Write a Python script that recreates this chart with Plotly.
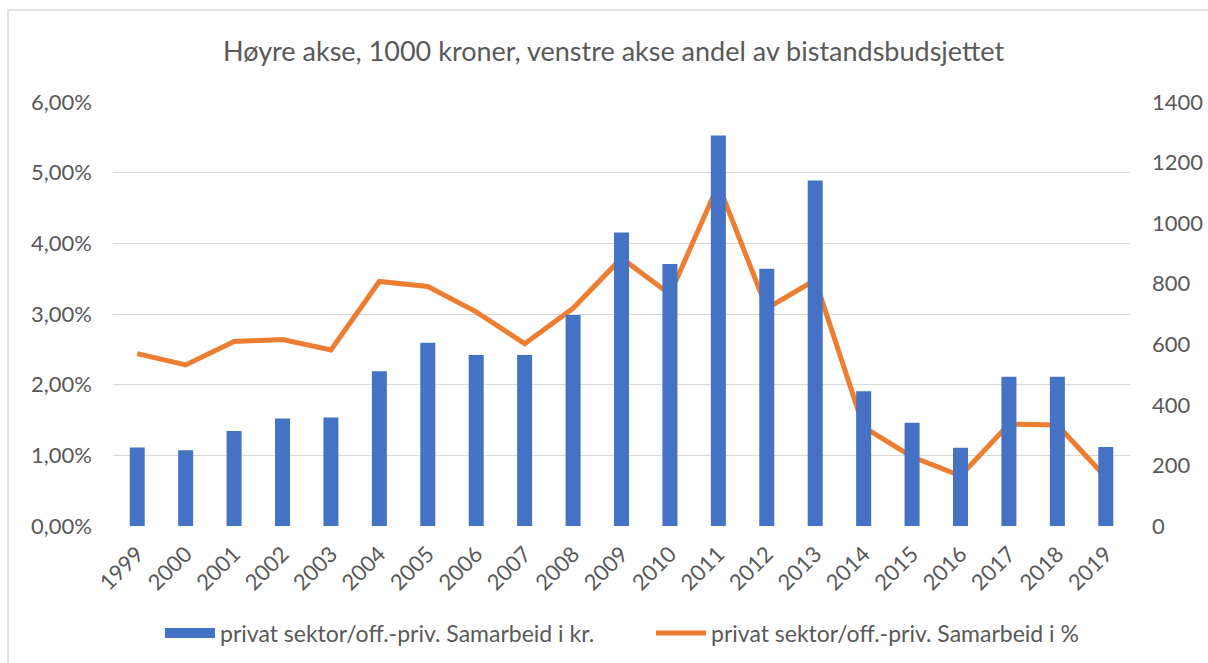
import plotly.graph_objects as go

years = [str(y) for y in range(1999, 2020)]
kroner = [259, 250, 314, 355, 358, 511, 605, 565, 565, 697, 969, 865, 1289, 849, 1141, 445, 341, 258, 493, 493, 261]
andel = [0.0244, 0.0228, 0.0261, 0.0264, 0.0249, 0.0346, 0.0339, 0.0303, 0.0258, 0.0308, 0.0379, 0.0328,
         0.0483, 0.0308, 0.0348, 0.0140, 0.0098, 0.0071, 0.0144, 0.0143, 0.0069]

bar_name = "privat sektor/off.-priv. Samarbeid i kr."
line_name = "privat sektor/off.-priv. Samarbeid i %"
title_text = "Høyre akse, 1000 kroner, venstre akse andel av bistandsbudsjettet"

FONT = "Lato"
GRAY = "#595959"
BLUE = "#4472C4"
ORANGE = "#ED7D31"
TS = 22

fig = go.Figure()
fig.add_trace(go.Bar(x=years, y=kroner, name=bar_name, marker=dict(color=BLUE, line=dict(width=0)),
                     yaxis="y2", showlegend=False))
# legend entry for the bars (wide swatch as in the original)
fig.add_trace(go.Scatter(x=[None], y=[None], name=bar_name, mode="lines",
                         line=dict(color=BLUE, width=14), yaxis="y2", showlegend=True, legend="legend"))
fig.add_trace(go.Scatter(x=years, y=andel, name=line_name, mode="lines",
                         line=dict(color=ORANGE, width=5), yaxis="y", legend="legend2"))

legend_common = dict(orientation="h", xref="container", yref="container", xanchor="left",
                     y=1 - 633 / 663, yanchor="middle", font=dict(size=23, color=GRAY),
                     itemwidth=50, bgcolor="rgba(0,0,0,0)")

fig.update_layout(
    width=1208, height=663,
    margin=dict(l=113, r=78, t=102, b=137),
    paper_bgcolor="white", plot_bgcolor="white",
    separators=", ",
    font=dict(family=FONT, color=GRAY, size=TS),
    bargap=0.69,
    title=dict(text=title_text, x=0.508, xanchor="center", y=1 - 52 / 663, yanchor="middle",
               font=dict(family=FONT, size=27, color=GRAY)),
    xaxis=dict(type="category", tickangle=-45, showgrid=False, showline=False, zeroline=False,
               ticks="", ticklabelstandoff=10, tickfont=dict(size=TS, color=GRAY), automargin=False),
    yaxis=dict(range=[0, 0.06], dtick=0.01, tickformat=".2%", showgrid=True, gridcolor="#D9D9D9",
               gridwidth=1.3, zeroline=False, showline=False, ticks="", ticklabelstandoff=20,
               tickfont=dict(size=TS, color=GRAY), automargin=False),
    yaxis2=dict(range=[0, 1400], dtick=200, tickformat="d", overlaying="y", side="right",
                showgrid=False, zeroline=False, showline=False, ticks="", ticklabelstandoff=21,
                tickfont=dict(size=TS, color=GRAY), automargin=False),
    legend=dict(x=160 / 1208, **legend_common),
    legend2=dict(x=651 / 1208, **legend_common),
    showlegend=True,
    shapes=[dict(type="rect", xref="paper", yref="paper", x0=-0.1032, x1=1.09, y0=-0.4, y1=1.217,
                 line=dict(color="#D9D9D9", width=1.5), fillcolor="rgba(0,0,0,0)", layer="below")],
)

fig.write_html("out.html", config={"displayModeBar": False},
               post_script="document.body.style.margin='0';document.body.style.overflow='hidden';")
